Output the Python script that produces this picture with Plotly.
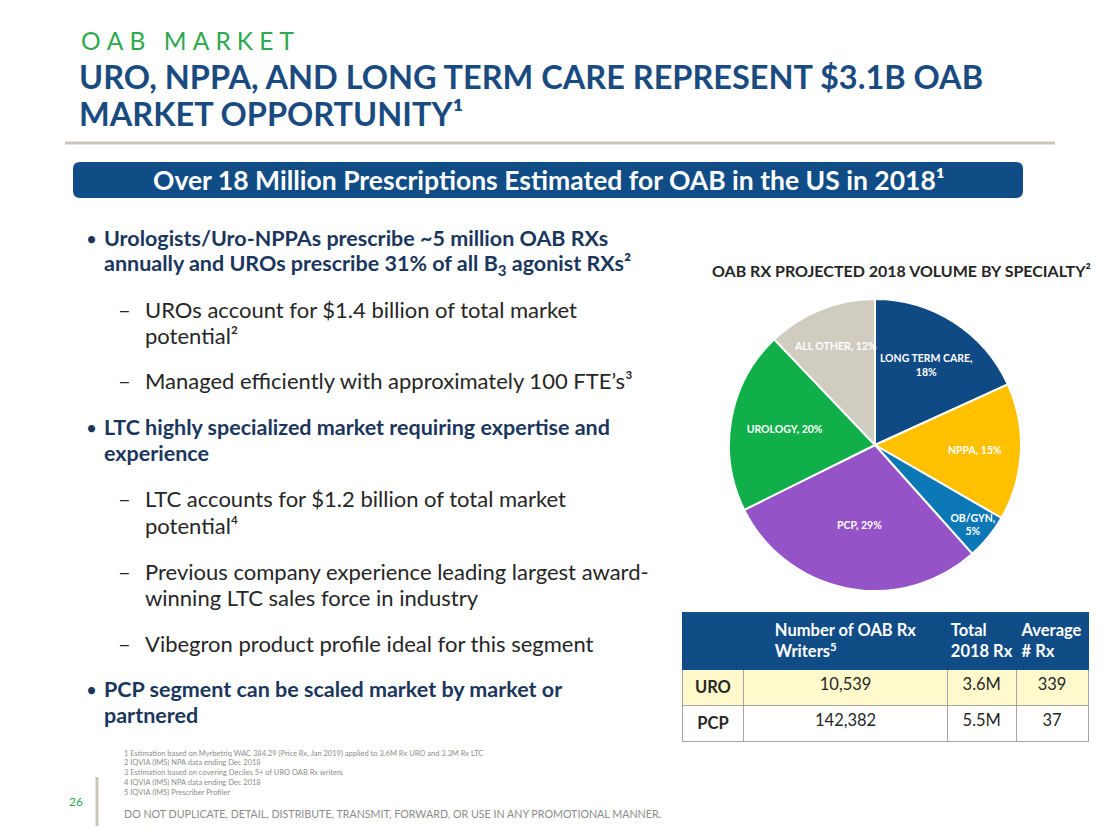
import plotly.graph_objects as go

W, H = 1120, 840

# ---------------- data ----------------
specialties = ["LONG TERM CARE", "NPPA", "OB/GYN", "PCP", "UROLOGY", "ALL OTHER"]
share_pct = [18, 15, 5, 29, 20, 12]
slice_colors = ["#0F4A84", "#FFC000", "#0C79B6", "#9553C8", "#10AF4A", "#D0CCBF"]
label_templates = ["%{label},<br>%{value}%", "%{label}, %{value}%",
                   "%{label},<br>%{value}%", "%{label}, %{value}%",
                   "%{label}, %{value}%", "%{label}, %{value}%"]

table_header = ["", "Number of OAB Rx<br>Writers<sup>5</sup>", "Total<br>2018 Rx", "Average<br># Rx"]
segments = ["URO", "PCP"]
rx_writers = ["10,539", "142,382"]
total_rx = ["3.6M", "5.5M"]
avg_rx = ["339", "37"]

footnotes = [
    "1 Estimation based on Myrbetriq WAC 384.29 (Price Rx, Jan 2019) applied to 3.6M Rx URO and 3.3M Rx LTC",
    "2 IQVIA (IMS) NPA data ending Dec 2018",
    "3 Estimation based on covering Deciles 5+ of URO OAB Rx writers",
    "4 IQVIA (IMS) NPA data ending Dec 2018",
    "5 IQVIA (IMS) Prescriber Profiler",
]

FONT = "Lato"
NAVY = "#1B365D"
TITLE_BLUE = "#1A4B80"
BANNER = "#104C86"
GREEN = "#2EA84E"
DARK = "#262626"


def px(x):
    return x / W


def py(y):
    return 1 - y / H


annotations = []


def txt(x, y, text, size, color, bold=False, xanchor="left", yanchor="middle"):
    annotations.append(dict(
        x=px(x), y=py(y), xref="paper", yref="paper", text=text, showarrow=False,
        xanchor=xanchor, yanchor=yanchor, align="left",
        font=dict(family=FONT, size=size, color=color, weight="bold" if bold else "normal"),
    ))


fig = go.Figure()

# ---------------- pie ----------------
cx, cy, r = 875, 445, 146
fig.add_trace(go.Pie(
    labels=specialties, values=share_pct, sort=False, direction="clockwise", rotation=0,
    marker=dict(colors=slice_colors, line=dict(color="white", width=2)),
    texttemplate=label_templates, textposition="inside", insidetextorientation="horizontal",
    textfont=dict(family=FONT, size=10.5, color="white", weight="bold"),
    domain=dict(x=[px(cx - r), px(cx + r)], y=[py(cy + r), py(cy - r)]),
    showlegend=False, hoverinfo="label+percent",
))

# ---------------- table ----------------
fig.add_trace(go.Table(
    domain=dict(x=[px(682), px(1088)], y=[py(745), py(612)]),
    columnwidth=[62, 204, 69, 72],
    header=dict(
        values=[f"<b>{h}</b>" if h else "" for h in table_header],
        fill_color=BANNER, line_color=BANNER, align="center", height=56,
        font=dict(family=FONT, size=16.5, color="white"),
    ),
    cells=dict(
        values=[[f"<b>{s}</b>" for s in segments], rx_writers, total_rx, avg_rx],
        fill_color=[["#FFF9CC", "#FFFFFF"]] * 4,
        line_color="#A6A6A6", align="center", height=30,
        font=dict(family=FONT, size=16.5, color=DARK),
    ),
))

# ---------------- header texts ----------------
txt(79, 40, "\u2005".join("OAB MARKET"), 24.5, GREEN)
txt(77, 76, "<b>URO, NPPA, AND LONG TERM CARE REPRESENT $3.1B OAB</b>", 32.5, TITLE_BLUE)
txt(77, 114, "<b>MARKET OPPORTUNITY¹</b>", 32.5, TITLE_BLUE)
txt(549, 180, "<b>Over 18 Million Prescriptions Estimated for OAB in the US in 2018¹</b>",
    26.5, "white", xanchor="center")

# ---------------- bullets ----------------
bullet_lines = [
    (84, 238, "•", True), (102, 238, "Urologists/Uro-NPPAs prescribe ~5 million OAB RXs", True),
    (102, 264, "annually and UROs prescribe 31% of all B<sub>3</sub> agonist RXs²", True),
    (116, 309, "–", False), (143, 309, "UROs account for $1.4 billion of total market", False),
    (143, 335, "potential²", False),
    (116, 381, "–", False), (143, 381, "Managed efficiently with approximately 100 FTE’s³", False),
    (84, 427, "•", True), (102, 427, "LTC highly specialized market requiring expertise and", True),
    (102, 453, "experience", True),
    (116, 498, "–", False), (143, 498, "LTC accounts for $1.2 billion of total market", False),
    (143, 525, "potential⁴", False),
    (116, 571, "–", False), (143, 571, "Previous company experience leading largest award-", False),
    (143, 597, "winning LTC sales force in industry", False),
    (116, 643, "–", False), (143, 643, "Vibegron product profile ideal for this segment", False),
    (84, 689, "•", True), (102, 689, "PCP segment can be scaled market by market or", True),
    (102, 715, "partnered", True),
]
for x, y, t, b in bullet_lines:
    if t in ("•", "–"):
        txt(x, y, t, 19 if b else 22, NAVY if b else DARK)
    else:
        txt(x, y, t, 21.5 if b else 22, NAVY if b else DARK, bold=b)

# pie title
txt(901, 270, "<b>OAB RX PROJECTED 2018 VOLUME BY SPECIALTY²</b>", 16, DARK, xanchor="center")

# footnotes
for i, f in enumerate(footnotes):
    txt(122, 753 + i * 9.9, f, 7.5, "#8C8C8C")
txt(122, 813, "DO NOT DUPLICATE, DETAIL, DISTRIBUTE, TRANSMIT, FORWARD, OR USE IN ANY PROMOTIONAL MANNER.",
    10.7, "#8C8C8C")
txt(76, 801, "26", 12, GREEN, xanchor="center")

# ---------------- shapes ----------------
shapes = [
    dict(type="line", xref="paper", yref="paper", x0=px(65), x1=px(1055), y0=py(143), y1=py(143),
         line=dict(color="#C9C5B9", width=3)),
    dict(type="line", xref="paper", yref="paper", x0=px(97), x1=px(97), y0=py(777), y1=py(826),
         line=dict(color="#C9C5B9", width=3)),
]
# rounded banner
x0, x1, y0, y1, rr = px(73), px(1023), py(198), py(162), 7
rx_, ry_ = rr / W, rr / H
path = (f"M {x0+rx_},{y0} L {x1-rx_},{y0} Q {x1},{y0} {x1},{y0+ry_} "
        f"L {x1},{y1-ry_} Q {x1},{y1} {x1-rx_},{y1} L {x0+rx_},{y1} Q {x0},{y1} {x0},{y1-ry_} "
        f"L {x0},{y0+ry_} Q {x0},{y0} {x0+rx_},{y0} Z")
shapes.append(dict(type="path", xref="paper", yref="paper", path=path, fillcolor=BANNER,
                   line=dict(width=0), layer="below"))

fig.update_layout(
    width=W, height=H, margin=dict(l=0, r=0, t=0, b=0),
    paper_bgcolor="white", plot_bgcolor="white",
    annotations=annotations, shapes=shapes,
    uniformtext=dict(minsize=10, mode="show"),
    font=dict(family=FONT),
)

fig.write_html("out.html", config={"displayModeBar": False},
               post_script="document.body.style.margin='0';")
